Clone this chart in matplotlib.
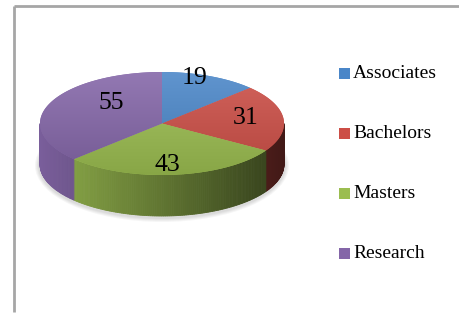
"""
3-D style pie of degree categories (Excel 2007 look), saved to out.png.
"""
import numpy as np
import matplotlib
matplotlib.use("Agg")
import matplotlib.pyplot as plt
from matplotlib.patches import Polygon, Rectangle, Ellipse
from matplotlib.colors import to_rgb

# ── Data ─────────────────────────────────────────────────────────────────────
categories = ["Associates", "Bachelors", "Masters", "Research"]
values = [19, 31, 43, 55]
colors = ["#4a86c8", "#cc4e46", "#9bbd50", "#8466a8"]

# label placement tweaks: (angle nudge in degrees, radial fraction)
label_layout = [(-6, 0.92), (-2.5, 0.69), (3, 0.80), (20, 0.57)]

# ── Geometry (pixel coordinates) ─────────────────────────────────────────────
CX, CY = 162.0, 123.5   # centre of top face
A, B = 122.0, 51.5      # ellipse semi-axes
DEPTH = 41.0            # thickness of the pie


def rim(theta_deg, dy=0.0):
    t = np.radians(theta_deg)
    return CX + A * np.sin(t), CY - B * np.cos(t) + dy


def shade(col, f):
    r, g, b = to_rgb(col)
    if f >= 1:
        return tuple(c + (1 - c) * (f - 1) for c in (r, g, b))
    return (r * f, g * f, b * f)


fig = plt.figure(figsize=(4.6, 3.19), dpi=100)
ax = fig.add_axes([0, 0, 1, 1])
ax.set_xlim(0, 460)
ax.set_ylim(319, 0)
ax.axis("off")

# frame lines (top and left only are visible)
ax.plot([14, 14], [312, 6], color="#a6a6a6", lw=2.0, solid_capstyle="butt")
ax.plot([14, 460], [6, 6], color="#a6a6a6", lw=2.0, solid_capstyle="butt")

total = float(sum(values))
bounds = np.concatenate([[0], np.cumsum(values)]) / total * 360.0

# faint drop shadow under the pie
for k in range(4):
    ax.add_patch(Ellipse((CX, CY + DEPTH + 1), 2 * A + 4 + 2 * k, 2 * B + 4 + 2 * k,
                         fc="#000000", ec="none", alpha=0.035, zorder=1))

# ── Sides (front half of the rim only) ───────────────────────────────────────
for i, col in enumerate(colors):
    lo, hi = max(bounds[i], 90.0), min(bounds[i + 1], 270.0)
    if hi <= lo:
        continue
    steps = np.linspace(lo, hi, int(hi - lo) + 2)
    for t0, t1 in zip(steps[:-1], steps[1:]):
        tm = 0.5 * (t0 + t1)
        # light from the left: left side lighter, right side dark
        f = 0.62 - 0.30 * np.sin(np.radians(tm))
        c = shade(col, f)
        x0, y0 = rim(t0)
        x1, y1 = rim(t1)
        quad = [(x0, y0), (x1, y1), (x1, y1 + DEPTH), (x0, y0 + DEPTH)]
        ax.add_patch(Polygon(quad, closed=True, fc=c, ec=c, lw=0.6, zorder=2))

# ── Top faces with a soft vertical gradient ──────────────────────────────────
grad = np.linspace(1.0, 0.0, 100)[:, None]
for i, col in enumerate(colors):
    th = np.linspace(bounds[i], bounds[i + 1], 200)
    xs, ys = rim(th)
    pts = [(CX, CY)] + list(zip(xs, ys))
    poly = Polygon(pts, closed=True, fc=col, ec="none", zorder=3)
    ax.add_patch(poly)
    top_c = np.array(shade(col, 1.12))
    bot_c = np.array(shade(col, 0.88))
    img = bot_c + (top_c - bot_c) * grad[..., None]
    img = np.repeat(img, 2, axis=1)
    im = ax.imshow(img, extent=[CX - A, CX + A, CY + B, CY - B],
                   origin="upper", aspect="auto", zorder=4,
                   interpolation="bilinear")
    im.set_clip_path(poly)

# ── Data labels ──────────────────────────────────────────────────────────────
for i, v in enumerate(values):
    nudge, r = label_layout[i]
    mid = 0.5 * (bounds[i] + bounds[i + 1]) + nudge
    t = np.radians(mid)
    ax.text(CX + r * A * np.sin(t), CY - r * B * np.cos(t), str(v),
            ha="center", va="center", fontsize=18.5,
            family="Liberation Serif", color="black", zorder=6)

# ── Legend (drawn by hand to match the spacing) ──────────────────────────────
for i, (lab, col) in enumerate(zip(categories, colors)):
    yc = 73 + 60 * i
    ax.add_patch(Rectangle((339, yc - 5.5), 11, 11, fc=col, ec="none", zorder=5))
    ax.text(353, yc + 0.5, lab, ha="left", va="center", fontsize=14,
            family="Liberation Serif", color="black", zorder=6)

fig.savefig("out.png", dpi=100)
